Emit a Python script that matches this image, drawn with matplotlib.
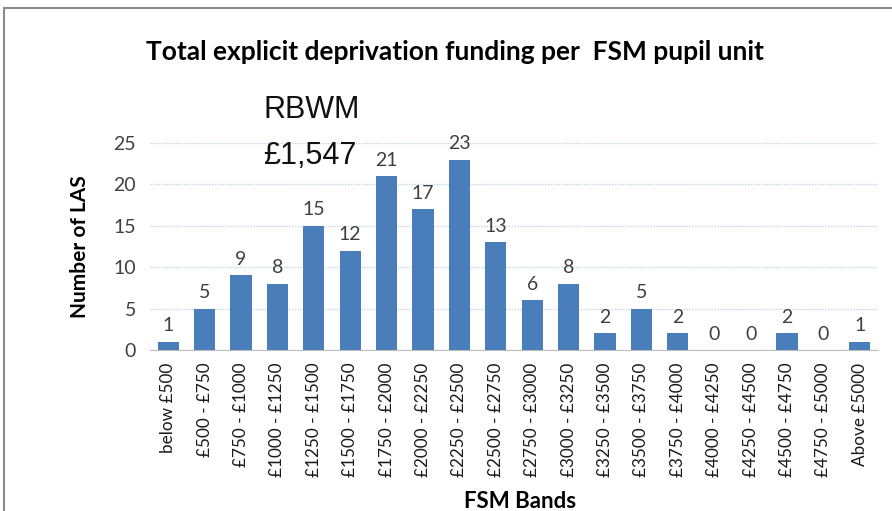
import matplotlib
matplotlib.use("Agg")
import matplotlib.pyplot as plt
from matplotlib.patches import Rectangle

bands = ["below £500", "£500 - £750", "£750 - £1000", "£1000 - £1250", "£1250 - £1500",
         "£1500 - £1750", "£1750 - £2000", "£2000 - £2250", "£2250 - £2500", "£2500 - £2750",
         "£2750 - £3000", "£3000 - £3250", "£3250 - £3500", "£3500 - £3750", "£3750 - £4000",
         "£4000 - £4250", "£4250 - £4500", "£4500 - £4750", "£4750 - £5000", "Above £5000"]
counts = [1, 5, 9, 8, 15, 12, 21, 17, 23, 13, 6, 8, 2, 5, 2, 0, 0, 2, 0, 1]
yticks = [0, 5, 10, 15, 20, 25]

plt.rcParams['font.family'] = ['Lato', 'DejaVu Sans']

fig = plt.figure(figsize=(8.92, 5.11), dpi=100)
W, H = 892, 511
ax = fig.add_axes([150/W, 1 - 350/H, (878-150)/W, (350-143)/H])

x = list(range(len(bands)))
ax.bar(x, counts, width=0.58, color="#4a7ebb", zorder=3)
for xi, c in zip(x, counts):
    ax.text(xi, c + 0.9, str(c), ha="center", va="bottom", fontsize=14, color="#404040",
            clip_on=False)

ax.set_xlim(-0.5, len(bands) - 0.5)
ax.set_ylim(0, 25)
ax.set_yticks(yticks)
ax.set_yticklabels([str(t) for t in yticks], fontsize=14, color="#404040")
ax.set_xticks(x)
ax.set_xticklabels(bands, rotation=90, fontsize=12.3, color="#1a1a1a")
ax.tick_params(axis="both", length=0, pad=10)
ax.tick_params(axis="x", pad=9)
ax.grid(axis="y", linestyle=(0, (1, 1)), color="#c6d4ea", linewidth=1, zorder=0)
for s in ["top", "right", "left"]:
    ax.spines[s].set_visible(False)
ax.spines["bottom"].set_color("#bfbfbf")

fig.text(80/W, 1 - 247/H, "Number of LAS", ha="center", va="center", rotation=90,
         fontsize=15, fontweight="bold")
fig.text(520/W, 1 - 501/H, "FSM Bands", ha="center", va="center", fontsize=16, fontweight="bold")
fig.text(455/W, 1 - 52/H, "Total explicit deprivation funding per  FSM pupil unit",
         ha="center", va="center", fontsize=19, fontweight="bold")
fig.text(263/W, 1 - 118/H, "RBWM", ha="left", va="baseline", fontsize=22,
         family="Liberation Sans", color="#111111")
fig.text(263/W, 1 - 164/H, "£1,547", ha="left", va="baseline", fontsize=22,
         family="Liberation Sans", color="#111111")

fig.patches.append(Rectangle((4/W, -0.05), (1 - 4/W) + 0.05, 1 - 8/H + 0.05,
                             transform=fig.transFigure, fill=False, edgecolor="#8c8c8c",
                             linewidth=1.5, figure=fig))

fig.savefig("out.png", dpi=100)
